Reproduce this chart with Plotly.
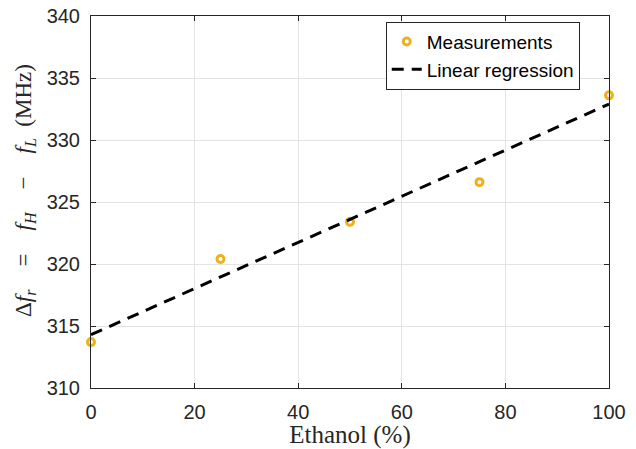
import plotly.graph_objects as go

ethanol = [0, 25, 50, 75, 100]
delta_f = [313.7, 320.4, 323.4, 326.6, 333.6]
reg_x = [0, 100]
reg_y = [314.3, 332.9]
x_ticks = [0, 20, 40, 60, 80, 100]
y_ticks = [310, 315, 320, 325, 330, 335, 340]

fig = go.Figure()
fig.add_trace(go.Scatter(
    x=ethanol, y=delta_f, mode="markers", name="Measurements",
    cliponaxis=False,
    marker=dict(symbol="circle-open", size=7, color="#EDB120",
                line=dict(width=3, color="#EDB120")),
))
fig.add_trace(go.Scatter(
    x=reg_x, y=reg_y, mode="lines", name="Linear regression",
    line=dict(color="black", width=3, dash="12px,8px"),
))

axis_common = dict(
    showline=True, linecolor="#262626", linewidth=1, mirror="allticks",
    ticks="inside", ticklen=5, tickcolor="#262626",
    showgrid=True, gridcolor="#e3e3e3", gridwidth=1, zeroline=False,
    automargin=False,
    tickfont=dict(family="Liberation Sans, Arial", size=20, color="#262626"),
)

sp = "&nbsp;" * 4
lead = "&nbsp;" * 4
ytitle = (lead + "Δ<i>f</i><sub><i>r</i></sub>" + sp + "=" + sp +
          "<i>f</i><sub><i>H</i></sub>" + sp + "−" + sp +
          "<i>f</i><sub><i>L</i></sub>" + "&nbsp;&nbsp;" + "(MHz)")

fig.update_layout(
    width=636, height=449,
    margin=dict(l=91, r=27, t=16, b=61),
    paper_bgcolor="white", plot_bgcolor="white",
    showlegend=True,
    legend=dict(
        x=0.569, y=0.985, xanchor="left", yanchor="top",
        bordercolor="#262626", borderwidth=1, bgcolor="white",
        font=dict(family="Liberation Sans, Arial", size=19, color="black"),
        tracegroupgap=0, itemwidth=30,
    ),
    xaxis=dict(range=[0, 100], tickvals=x_ticks, ticklabelstandoff=6, **axis_common,
               title=dict(text="Ethanol (%)", standoff=2,
                          font=dict(family="Liberation Serif, DejaVu Serif", size=25, color="#262626"))),
    yaxis=dict(range=[310, 340], tickvals=y_ticks, ticklabelstandoff=6, **axis_common,
               title=dict(text=ytitle, standoff=8,
                          font=dict(family="Liberation Serif, DejaVu Serif", size=23, color="#262626"))),
)

fig.write_html("out.html")
